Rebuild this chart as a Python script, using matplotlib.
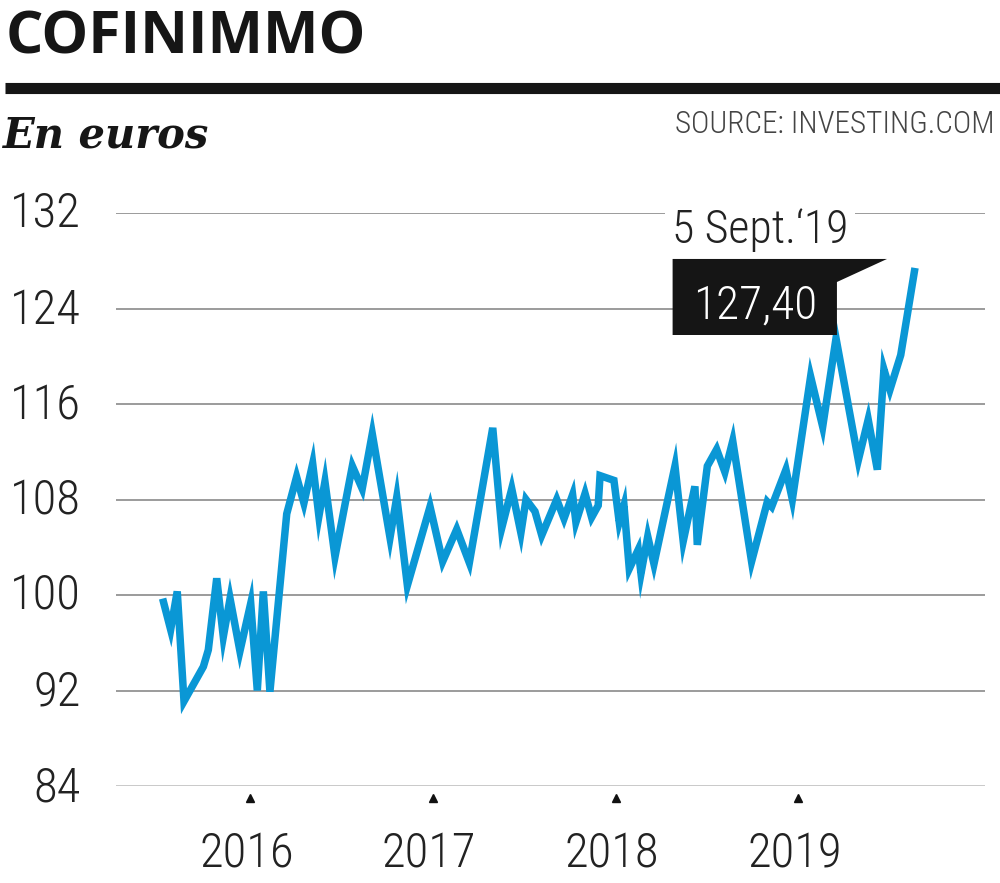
import matplotlib
matplotlib.use("Agg")
import matplotlib.pyplot as plt
from matplotlib import font_manager
from matplotlib.patches import Polygon
import matplotlib.transforms as mtransforms

# ---------------- data ----------------
years = [2015.522, 2015.566, 2015.602, 2015.639, 2015.745, 2015.772, 2015.818, 2015.854,
         2015.891, 2015.945, 2016.004, 2016.040, 2016.073, 2016.109, 2016.201, 2016.255,
         2016.295, 2016.343, 2016.377, 2016.410, 2016.465, 2016.560, 2016.614, 2016.669,
         2016.766, 2016.803, 2016.861, 2016.985, 2017.054, 2017.131, 2017.200, 2017.328,
         2017.377, 2017.432, 2017.482, 2017.510, 2017.559, 2017.596, 2017.678, 2017.718,
         2017.765, 2017.783, 2017.833, 2017.869, 2017.905, 2017.915, 2017.991, 2018.020,
         2018.046, 2018.075, 2018.124, 2018.139, 2018.176, 2018.210, 2018.325, 2018.370,
         2018.434, 2018.447, 2018.502, 2018.553, 2018.598, 2018.641, 2018.744, 2018.830,
         2018.854, 2018.932, 2018.967, 2019.067, 2019.133, 2019.206, 2019.328, 2019.382,
         2019.432, 2019.468, 2019.501, 2019.560, 2019.638]
prices = [99.7, 97.1, 100.3, 91.1, 94.0, 95.4, 101.4, 96.5,
          99.7, 95.3, 99.3, 92.0, 100.3, 91.9, 106.8, 109.9,
          107.7, 111.0, 106.6, 109.5, 103.2, 110.8, 108.9, 113.5,
          104.8, 108.2, 100.8, 107.4, 102.8, 105.5, 102.7, 114.0,
          105.6, 108.9, 105.2, 108.0, 107.0, 105.0, 108.0, 106.4,
          108.4, 106.1, 108.5, 106.5, 107.5, 110.0, 109.6, 106.1,
          107.5, 102.2, 103.8, 101.8, 104.9, 102.6, 110.8, 104.5,
          109.1, 104.2, 110.8, 112.2, 110.3, 112.9, 102.8, 107.8,
          107.4, 110.5, 108.0, 118.3, 114.1, 121.5, 111.3, 114.7,
          110.5, 118.9, 117.2, 120.1, 127.4]
y_ticks = [84, 92, 100, 108, 116, 124, 132]
x_ticks = [2016, 2017, 2018, 2019]
x_labels = ["2016", "2017", "2018", "2019"]
title = "COFINIMMO"
subtitle = "En euros"
source = "SOURCE: INVESTING.COM"
last_date_label = "5 Sept.\u201819"
last_value_label = "127,40"

# ---------------- fonts ----------------
names = {f.name for f in font_manager.fontManager.ttflist}
def pick(*cands):
    for c in cands:
        if c in names:
            return c
    return "DejaVu Sans"
NARROW = pick("Liberation Sans Narrow", "Roboto Condensed", "Open Sans Condensed", "Liberation Sans")
BOLD = pick("Open Sans", "Liberation Sans", "DejaVu Sans")
LW = "light"

BLUE = "#0a97d5"
GRID = "#8a8a8a"

fig = plt.figure(figsize=(10, 8.83), dpi=100)
W, H = 1000, 883

# axes placement (pixel-based)
ax_l, ax_r, ax_t, ax_b = 116, 985, 213, 786
ax = fig.add_axes([ax_l / W, 1 - ax_b / H, (ax_r - ax_l) / W, (ax_b - ax_t) / H])
ax.set_ylim(84, 132)
ax.set_xlim(2015.267, 2020.021)
for s in ax.spines.values():
    s.set_visible(False)
ax.set_xticks([])
ax.set_yticks([])
ax.patch.set_alpha(0)

# gridlines
for v in y_ticks:
    if v == 84:
        ax.axhline(v, color="#c4c4c4", lw=2.0, zorder=1)
    else:
        ax.axhline(v, color=GRID, lw=1.2, zorder=1)

# y labels
ytrans = mtransforms.blended_transform_factory(ax.transAxes, ax.transData)
ytrans_off = mtransforms.offset_copy(ytrans, fig=fig, x=0, y=-15, units="dots")
for v in y_ticks:
    ax.text(-(ax_l - 81) / (ax_r - ax_l), v, str(v), transform=ytrans_off,
            ha="right", va="baseline", fontsize=35, family=NARROW, fontweight=LW,
            color="#222222")

# x ticks (triangles) and labels
xtrans = mtransforms.blended_transform_factory(ax.transData, ax.transAxes)
ax.plot(x_ticks, [-0.021] * len(x_ticks), linestyle="none", marker="^", markersize=6,
        color="#111111", transform=xtrans, clip_on=False)
for xv, lab in zip(x_ticks, x_labels):
    ax.text(xv - 0.02, -(868 - ax_b) / (ax_b - ax_t), lab, transform=xtrans,
            ha="center", va="baseline", fontsize=35, family=NARROW, fontweight=LW,
            color="#222222")

# price line
ax.plot(years, prices, color=BLUE, lw=5.4, solid_joinstyle="miter", solid_capstyle="butt",
        zorder=3, clip_on=False)

# annotation: date label breaking the top gridline
ax.text(2018.79, 129.49, last_date_label, ha="center", va="baseline", fontsize=33,
        family=NARROW, fontweight=LW, color="#222222", zorder=4,
        bbox=dict(boxstyle="square,pad=0.15", fc="white", ec="none"))

# black flag box with value
box = Polygon([(2018.312, 121.78), (2018.312, 128.15), (2019.485, 128.15),
               (2019.211, 126.22), (2019.211, 121.78)], closed=True,
              fc="#151515", ec="none", zorder=5)
ax.add_patch(box)
ax.text(2018.763, 123.2, last_value_label, ha="center", va="baseline", fontsize=34,
        family=NARROW, fontweight=LW, color="white", zorder=6)

# header
fig.text(6 / W, 1 - 54 / H, title, ha="left", va="baseline", fontsize=42.5,
         family=BOLD, fontweight="bold", color="#161616")
fig.add_artist(plt.Line2D([5 / W, 1.0], [1 - 87.5 / H, 1 - 87.5 / H], color="#151515",
                          lw=8, solid_capstyle="butt", transform=fig.transFigure))
fig.text(3 / W, 1 - 148 / H, subtitle, ha="left", va="baseline", fontsize=30,
         family="DejaVu Serif", fontweight="bold", style="italic", color="#161616")
fig.text(995 / W, 1 - 133 / H, source, ha="right", va="baseline", fontsize=22.5,
         family=NARROW, fontweight=LW, color="#444444")

fig.savefig("out.png", dpi=100, facecolor="white")
